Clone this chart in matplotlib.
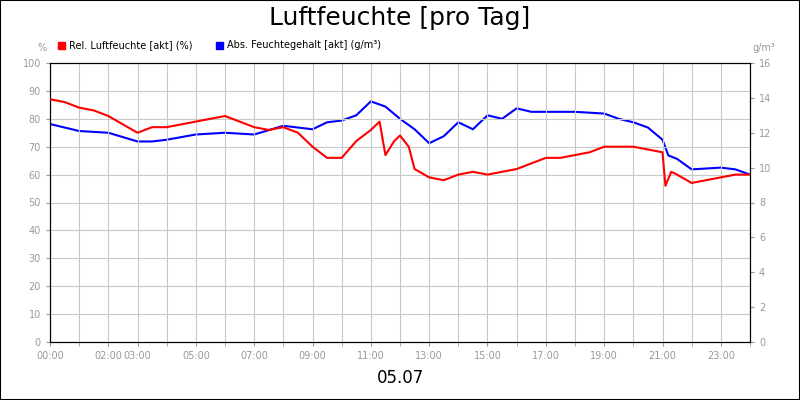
import matplotlib
matplotlib.use("Agg")
import matplotlib.pyplot as plt
from matplotlib.patches import Rectangle

t_rel = [0,0.5,1,1.5,2,2.5,3,3.5,4,4.5,5,5.5,6,6.5,7,7.5,8,8.5,9,9.5,10,10.5,11,11.3,11.5,11.8,12,12.3,12.5,13,13.5,14,14.5,15,15.5,16,16.5,17,17.5,18,18.5,19,19.5,20,20.5,21,21.1,21.3,21.5,22,22.5,23,23.5,24]
rel = [87,86,84,83,81,78,75,77,77,78,79,80,81,79,77,76,77,75,70,66,66,72,76,79,67,72,74,70,62,59,58,60,61,60,61,62,64,66,66,67,68,70,70,70,69,68,56,61,60,57,58,59,60,60]
t_abs = [0,1,2,3,3.5,4,5,6,7,8,8.5,9,9.5,10,10.5,11,11.5,12,12.5,13,13.5,14,14.5,15,15.5,16,16.5,17,18,19,19.5,20,20.5,21,21.2,21.5,22,23,23.5,24]
absf = [12.5,12.1,12.0,11.5,11.5,11.6,11.9,12.0,11.9,12.4,12.3,12.2,12.6,12.7,13.0,13.8,13.5,12.8,12.2,11.4,11.8,12.6,12.2,13.0,12.8,13.4,13.2,13.2,13.2,13.1,12.8,12.6,12.3,11.6,10.7,10.5,9.9,10.0,9.9,9.6]
tick_hours = [0,2,3,5,7,9,11,13,15,17,19,21,23]
tick_labels = ["00:00","02:00","03:00","05:00","07:00","09:00","11:00","13:00","15:00","17:00","19:00","21:00","23:00"]

fig = plt.figure(figsize=(8,4), dpi=100)
fig.patches.append(Rectangle((0,0),1,1,transform=fig.transFigure,fill=False,edgecolor="black",lw=1.5))
ax = fig.add_axes([0.0625,0.145,0.875,0.6975])
ax2 = ax.twinx()
gray = "#999999"
ax.plot(t_rel, rel, color="#ff0000", lw=1.5, zorder=3)
ax2.plot(t_abs, absf, color="#0000ff", lw=1.5)
ax.set_xlim(0,24); ax.set_ylim(0,100); ax2.set_ylim(0,16)
ax.set_yticks(range(0,101,10)); ax2.set_yticks(range(0,17,2))
ax.set_xticks(tick_hours)
ax.set_xticklabels(tick_labels)
ax.set_xticks([h for h in range(25) if h not in tick_hours], minor=True)
ax.tick_params(axis="x", which="both", length=3, color=gray, labelsize=7, labelcolor=gray)
ax.tick_params(axis="y", labelsize=7, labelcolor=gray, length=3, color=gray)
ax2.tick_params(axis="y", labelsize=7, labelcolor=gray, length=3, color=gray)
ax.grid(True, which="both", color="#c8c8c8", lw=0.8)
for s in list(ax.spines.values())+list(ax2.spines.values()):
    s.set_color("black")
ax.set_zorder(ax2.get_zorder()+1); ax.patch.set_visible(False)
fig.text(0.5,0.955,"Luftfeuchte [pro Tag]",ha="center",va="center",fontsize=18)
fig.text(0.5,0.055,"05.07",ha="center",va="center",fontsize=12)
fig.text(0.053,0.88,"%",ha="center",va="center",fontsize=7,color=gray)
fig.text(0.955,0.88,"g/m³",ha="center",va="center",fontsize=7,color=gray)
fig.patches.append(Rectangle((0.0725,0.878),0.009,0.018,transform=fig.transFigure,color="#ff0000"))
fig.text(0.086,0.887,"Rel. Luftfeuchte [akt] (%)",va="center",fontsize=7)
fig.patches.append(Rectangle((0.27,0.878),0.009,0.018,transform=fig.transFigure,color="#0000ff"))
fig.text(0.2835,0.887,"Abs. Feuchtegehalt [akt] (g/m³)",va="center",fontsize=7)
fig.savefig("out.png")
